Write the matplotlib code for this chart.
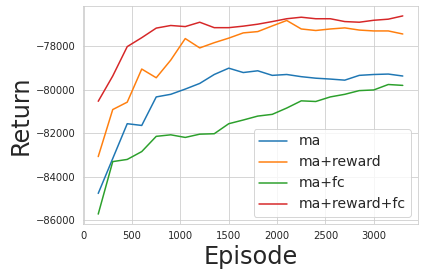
import matplotlib
matplotlib.use('Agg')
from matplotlib import pyplot as plt
import seaborn as sns

sns.set_style('whitegrid')

# episodes logged every 150
episodes = [150, 300, 450, 600, 750, 900, 1050, 1200, 1350, 1500, 1650,
            1800, 1950, 2100, 2250, 2400, 2550, 2700, 2850, 3000, 3150, 3300]

ma = [-84770, -83170, -81570, -81650, -80340, -80220, -79980, -79720, -79310, -79020, -79220,
      -79140, -79350, -79310, -79410, -79480, -79520, -79570, -79350, -79310, -79290, -79380]
ma_reward = [-83080, -80920, -80580, -79060, -79460, -78650, -77660, -78090, -77850, -77640, -77400,
             -77340, -77080, -76830, -77220, -77290, -77220, -77170, -77270, -77310, -77310, -77450]
ma_fc = [-85720, -83310, -83210, -82850, -82150, -82080, -82200, -82050, -82030, -81570, -81400,
         -81220, -81140, -80850, -80520, -80550, -80340, -80220, -80050, -80020, -79770, -79810]
ma_reward_fc = [-80540, -79380, -78030, -77620, -77180, -77060, -77110, -76910, -77160, -77160, -77090,
                -77000, -76880, -76750, -76680, -76750, -76750, -76880, -76910, -76820, -76770, -76620]

fig = plt.figure(figsize=(423 / 72, 276 / 72), dpi=72)
ax = fig.add_axes([83 / 423, 1 - 224 / 276, 335 / 423, 218 / 276])

ax.plot(episodes, ma, label='ma')
ax.plot(episodes, ma_reward, label='ma+reward')
ax.plot(episodes, ma_fc, label='ma+fc')
ax.plot(episodes, ma_reward_fc, label='ma+reward+fc')

ax.set_xticks([0, 500, 1000, 1500, 2000, 2500, 3000])
ax.set_yticks([-86000, -84000, -82000, -80000, -78000])
ax.tick_params(labelsize=10)
ax.set_xlabel('Episode', fontsize=24)
ax.set_ylabel('Return', fontsize=24)
ax.legend(loc='lower right', fontsize=14)

fig.savefig('out.png', dpi=72)
